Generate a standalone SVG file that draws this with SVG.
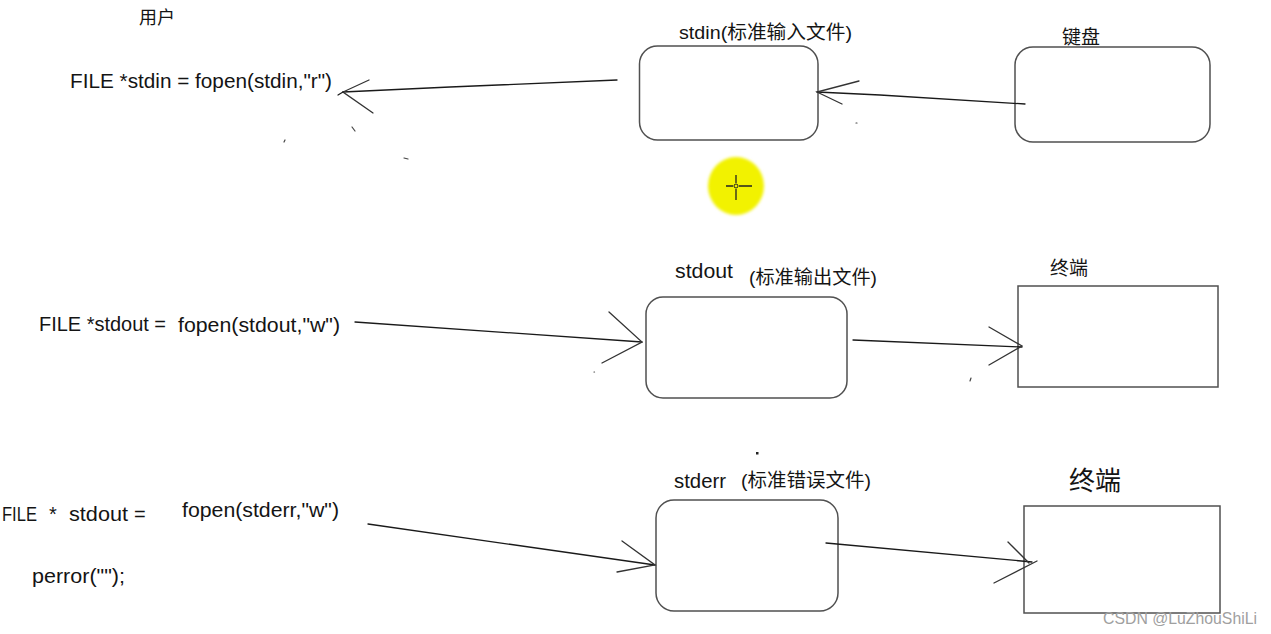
<svg xmlns="http://www.w3.org/2000/svg" width="1271" height="634" viewBox="0 0 1271 634">
<defs>
<style>
.t{font-family:"Liberation Sans","Noto Sans CJK SC",sans-serif;fill:#141414;}
.box{fill:none;stroke:#505050;stroke-width:1.5;}
.ln{fill:none;stroke:#1a1a1a;stroke-width:1.3;stroke-linecap:round;}
.barb{fill:none;stroke:#333;stroke-width:1.3;stroke-linecap:round;}
.speck{fill:none;stroke:#444;stroke-width:1.2;stroke-linecap:round;}
</style>
<filter id="soft" x="-20%" y="-20%" width="140%" height="140%"><feGaussianBlur stdDeviation="1.5"/></filter>
</defs>
<rect width="1271" height="634" fill="#ffffff"/>

<g id="user-label"><text class="t" x="139" y="24" font-size="18">用户</text></g>

<g id="code-stdin"><text class="t" x="70" y="88" font-size="20" textLength="262" lengthAdjust="spacingAndGlyphs">FILE *stdin = fopen(stdin,"r")</text></g>

<g id="stdin-file">
<rect class="box" x="639.5" y="46" width="178.5" height="94" rx="18"/>
<text class="t" x="679" y="39" font-size="19" textLength="173" lengthAdjust="spacingAndGlyphs">stdin(标准输入文件)</text>
</g>

<g id="keyboard">
<rect class="box" x="1015" y="47" width="195" height="95" rx="18"/>
<text class="t" x="1062" y="44" font-size="19">键盘</text>
</g>

<g id="code-stdout">
<text class="t" x="39" y="331" font-size="20" textLength="127" lengthAdjust="spacingAndGlyphs">FILE *stdout =</text>
<text class="t" x="178" y="332" font-size="20" textLength="162" lengthAdjust="spacingAndGlyphs">fopen(stdout,"w")</text>
</g>

<g id="stdout-file">
<rect class="box" x="646" y="297" width="201" height="101" rx="17"/>
<text class="t" x="675" y="278" font-size="20" textLength="58" lengthAdjust="spacingAndGlyphs">stdout</text>
<text class="t" x="749" y="284" font-size="19" textLength="128" lengthAdjust="spacingAndGlyphs">(标准输出文件)</text>
</g>

<g id="terminal-1">
<rect class="box" x="1018" y="286" width="200" height="101"/>
<text class="t" x="1050" y="275" font-size="19">终端</text>
</g>

<g id="code-stderr">
<text class="t" x="2" y="521" font-size="20" textLength="35" lengthAdjust="spacingAndGlyphs">FILE</text>
<text class="t" x="49" y="521" font-size="20">*</text>
<text class="t" x="69" y="521" font-size="20" textLength="59" lengthAdjust="spacingAndGlyphs">stdout</text>
<text class="t" x="134" y="521" font-size="20">=</text>
<text class="t" x="182" y="517" font-size="20" textLength="157" lengthAdjust="spacingAndGlyphs">fopen(stderr,"w")</text>
<text class="t" x="32" y="583" font-size="20" textLength="93" lengthAdjust="spacingAndGlyphs">perror("");</text>
</g>

<g id="stderr-file">
<rect class="box" x="656" y="500" width="182" height="111" rx="18"/>
<text class="t" x="674" y="488" font-size="20" textLength="52" lengthAdjust="spacingAndGlyphs">stderr</text>
<text class="t" x="741" y="487" font-size="19" textLength="130" lengthAdjust="spacingAndGlyphs">(标准错误文件)</text>
</g>

<g id="terminal-2">
<rect class="box" x="1024" y="506" width="196" height="107"/>
<text class="t" x="1069" y="490" font-size="26">终端</text>
</g>

<g id="connectors">
<path class="ln" d="M617,80 L450,87 L343,92"/>
<path class="barb" d="M369,80 L343,92 L373,113"/>
<path class="ln" d="M343,92 L338,95"/>
<path class="ln" d="M1025,104 L880,95 L817,92"/>
<path class="barb" d="M859,81 L817,92 L842,104"/>
<path class="ln" d="M355,322 L642,342"/>
<path class="barb" d="M609,312 L642,342 L602,363"/>
<path class="ln" d="M853,340 L1022,347"/>
<path class="barb" d="M989,327 L1022,346 L989,365"/>
<path class="ln" d="M368,524 L655,565"/>
<path class="barb" d="M622,541 L655,565 L617,572"/>
<path class="ln" d="M826,543 L1032,562"/>
<path class="barb" d="M1008,542 L1029,563"/>
<path class="barb" d="M994,583 L1037,561"/>
</g>

<g id="specks">
<path class="speck" d="M285,140 L284,142"/>
<path class="speck" d="M352,127 L355,131"/>
<path class="speck" d="M404,158 L408,159"/>
<path class="speck" d="M856,123 L857,123"/>
<path class="speck" d="M594,372 L594.5,372"/>
<path class="speck" d="M971,378 L970,381"/>
<rect x="756" y="452" width="2.5" height="2.5" fill="#222"/>
</g>

<g id="cursor">
<ellipse cx="736" cy="186" rx="28" ry="29" fill="#f2f200" filter="url(#soft)"/>
<path d="M726,186 L733,186 M739,186 L752,186 M736,175 L736,183 M736,189 L736,200" stroke="#222" stroke-width="1.3" fill="none"/>
<circle cx="736" cy="186" r="2" fill="none" stroke="#222" stroke-width="1"/>
</g>

<g id="watermark"><text x="1103" y="624" font-family="Liberation Sans, sans-serif" font-size="17" fill="#a0a0a0" textLength="154" lengthAdjust="spacingAndGlyphs">CSDN @LuZhouShiLi</text></g>
</svg>
